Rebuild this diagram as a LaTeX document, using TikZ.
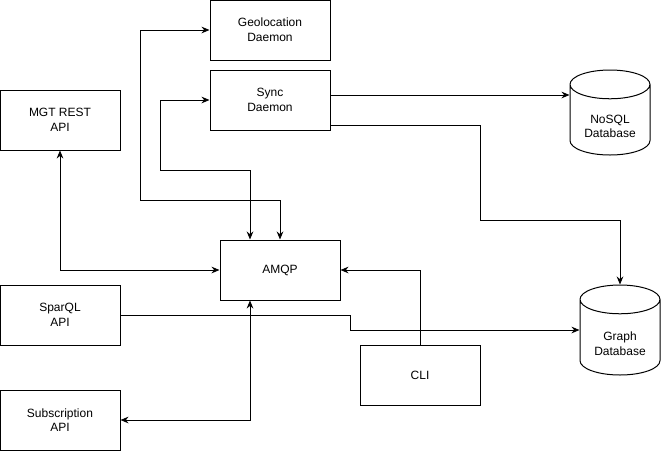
\documentclass[tikz,border=0pt]{standalone}
\usepackage{fontspec}
\setmainfont{Liberation Sans}
\usetikzlibrary{shapes.geometric}
\usetikzlibrary{arrows.meta}
\usetikzlibrary{calc}

\newcommand{\dbgap}{\rule{0pt}{16pt}}

\tikzset{
    box/.style={draw, line width=0.75pt, minimum width=90pt, minimum height=45pt, inner sep=0pt, align=center},
    db/.style={draw, line width=0.75pt, cylinder, shape border rotate=90, aspect=0.56, minimum width=60pt, inner sep=0pt, align=center, anchor=shape center},
    link/.style={line width=0.75pt, -{Stealth[length=6pt,width=5pt]}},
    dual/.style={line width=0.75pt, {Stealth[length=6pt,width=5pt]}-{Stealth[length=6pt,width=5pt]}}
}

\begin{document}
\begin{tikzpicture}[x=0.75pt, y=-0.75pt, font=\fontsize{9}{11}\selectfont]
    \useasboundingbox (0,0) rectangle (661,451);
    % boxes
    \foreach \n/\x/\y/\t in {geo/270/30/{Geolocation\\Daemon}, sync/270/100/{Sync\\Daemon},
        mgt/60/120/{MGT REST\\API}, amqp/280/270/{AMQP}, sparql/60/315/{SparQL\\API},
        sub/60/420/{Subscription\\API}, cli/420/375/{CLI}}
        \node[box] (\n) at (\x,\y) {\t};
    % databases
    \node[db, minimum height=63.75pt] (nosql) at (610,112.5) {\dbgap NoSQL\\Database};
    \node[db, minimum height=67.5pt] (graph) at (620,330) {\dbgap Graph\\Database};
    % connectors
    \draw[dual] (geo.west) -| (140,200) -| (amqp.north);
    \draw[dual] (sync.west) -| (160,170) -| ($(amqp.north)+(-30,0)$);
    \draw[dual] (mgt.south) |- (amqp.west);
    \draw[dual] ($(amqp.south)+(-30,0)$) |- (sub.east);
    \coordinate (s1) at ($(sync.east)+(0,-5)$);
    \draw[link] (s1) -- (s1 -| nosql.west);
    \draw[link] ($(sync.east)+(0,25)$) -| (480,220) -| (graph.north);
    \coordinate (g1) at (350,330);
    \draw[link] (sparql.east) -| (g1) -- (g1 -| graph.west);
    \draw[link] (cli.north) |- (amqp.east);
\end{tikzpicture}
\end{document}
